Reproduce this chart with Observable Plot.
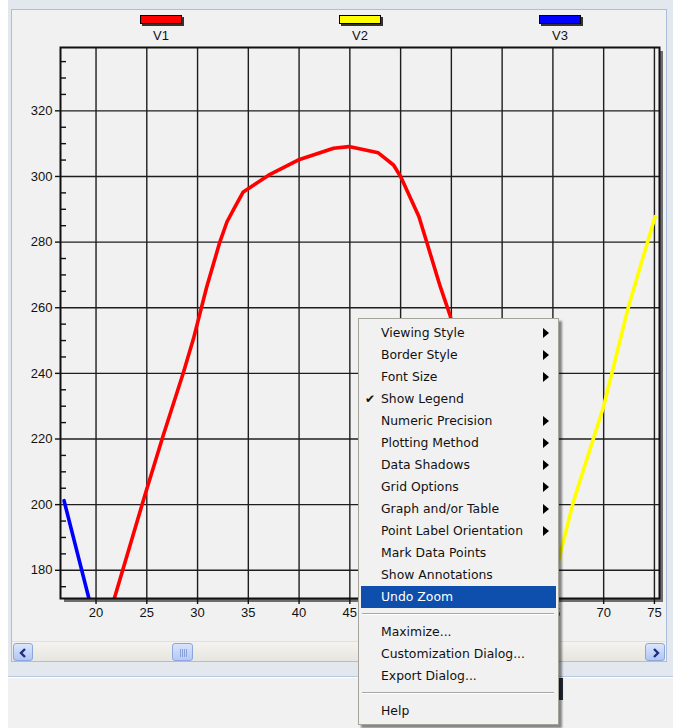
<!DOCTYPE html>
<html>
<head>
<meta charset="utf-8">
<script src="https://cdn.jsdelivr.net/npm/d3@7"></script>
<script src="https://cdn.jsdelivr.net/npm/@observablehq/plot@0.6"></script>
<style>
  html, body { margin: 0; padding: 0; background: #ffffff; width: 673px; height: 728px; overflow: hidden; font-family: "Liberation Sans", Arial, sans-serif; }
  .abs { position: absolute; }
  #outer { left: 8px; top: 0; width: 665px; height: 676px; background: #e3e8ef; border-bottom: 1px solid #b8c8de; }
  #panel { left: 11px; top: 9px; width: 654px; height: 651px; background: #f1f1f1; border: 1px solid #a9bfdc; }
  #bottomArea { left: 8px; top: 678px; width: 665px; height: 50px; background: #f1f1f1; }
  #shadow { left: 64px; top: 51px; width: 599px; height: 551px; background: #6d6d6d; }
  #chart { left: 0; top: 0; }
  .swatch { position: absolute; width: 40px; height: 7px; border: 1px solid #000; box-shadow: 2px 2px 0 #333; }
  .leglab { position: absolute; width: 40px; text-align: center; font-size: 13px; color: #111; }
  #scroll { left: 12px; top: 641px; width: 653px; height: 19px; background: linear-gradient(#f4f3ef, #e6e5df); border-top: 1px solid #e0e0e0; }
  .sbtn { position: absolute; top: 1px; width: 20px; height: 18px; border-radius: 3px; background: linear-gradient(#dbe6fe, #b2c6f5); border: 1px solid #8fa6da; box-sizing: border-box; }
  .sbtn svg { position: absolute; left: 0; top: 0; }
  #thumb { position: absolute; left: 160px; top: 1px; width: 21px; height: 18px; border-radius: 3px; background: linear-gradient(#d8e3fd, #b6c9f5); border: 1px solid #8fa6da; box-sizing: border-box; }
  #menu { left: 358px; top: 318px; width: 199px; height: 405px; background: #f1f1f1; border: 1px solid #a5a39a; box-shadow: 3px 3px 2px rgba(0,0,0,0.45); font-family: "DejaVu Sans", sans-serif; font-size: 12.4px; color: #111; }
  .mi { position: absolute; left: 0; width: 199px; height: 22px; line-height: 22px; }
  .mi span.t { position: absolute; left: 22px; }
  .mi span.a { position: absolute; left: 184px; top: 6px; width: 0; height: 0; border-left: 6px solid #000; border-top: 5px solid transparent; border-bottom: 5px solid transparent; }
  .mi span.c { position: absolute; left: 6px; font-size: 12px; }
  .sep { position: absolute; left: 3px; width: 192px; height: 0; border-top: 1px solid #a7a7a7; border-bottom: 1px solid #ffffff; }
  .hl { background: #0e4fae; color: #ffffff; left: 2px; width: 195px; }
</style>
</head>
<body>
<div id="outer" class="abs"></div>
<div id="panel" class="abs"></div>
<div id="bottomArea" class="abs"></div>
<div class="abs" style="left:556px;top:678px;width:7px;height:22px;background:#2a2f3a;"></div>
<div id="shadow" class="abs"></div>
<div id="chart" class="abs"></div>
<div id="legend"></div>
<div id="scroll" class="abs">
  <div class="sbtn" style="left:1px;"><svg width="20" height="18"><polyline points="11,5 7,9 11,13" fill="none" stroke="#1d2f7a" stroke-width="2.4"/></svg></div>
  <div id="thumb"><svg width="21" height="18"><g stroke="#8aa0d8" stroke-width="1"><line x1="7.5" y1="5" x2="7.5" y2="13"/><line x1="9.5" y1="5" x2="9.5" y2="13"/><line x1="11.5" y1="5" x2="11.5" y2="13"/><line x1="13.5" y1="5" x2="13.5" y2="13"/></g></svg></div>
  <div class="sbtn" style="left:633px;"><svg width="20" height="18"><polyline points="8,5 12,9 8,13" fill="none" stroke="#1d2f7a" stroke-width="2.4"/></svg></div>
</div>
<div id="menu" class="abs"></div>
<script>
// ---- data ----
const seriesNames = ["V1", "V2", "V3"];
const seriesColors = ["#ff0000", "#ffff00", "#0000ff"];

const v1X = [21.8, 24.7, 26.6, 28.6, 29.6, 30.9, 32.2, 32.9, 33.7, 34.5, 35.8, 37.0, 39.9, 43.4, 44.9, 47.8, 49.3, 50.0, 51.8, 52.6, 53.9, 54.9, 56.5, 58.5];
const v1Y = [171.4, 201.7, 220.9, 240.2, 250.6, 266.3, 280.1, 286.2, 290.8, 295.3, 297.9, 300.4, 305.0, 308.6, 309.1, 307.2, 303.5, 300.0, 287.8, 279.7, 266.5, 257.4, 230.0, 190.0];

const v2X = [64.5, 65.55, 67.0, 70.0, 72.45, 75.07];
const v2Y = [171.4, 182.9, 200.7, 230.0, 260.4, 287.8];

const v3X = [16.85, 19.3];
const v3Y = [201.2, 171.4];

const xTicks = [20, 25, 30, 35, 40, 45, 50, 55, 60, 65, 70, 75];
const yTicks = [180, 200, 220, 240, 260, 280, 300, 320];
const yMinorTicks = [175, 185, 190, 195, 205, 210, 215, 225, 230, 235, 245, 250, 255, 265, 270, 275, 285, 290, 295, 305, 310, 315, 325, 330, 335];
const xDomain = [16.5, 75.5];
const yDomain = [171.4, 339.3];

const menuItems = [
  {label: "Viewing Style", arrow: true},
  {label: "Border Style", arrow: true},
  {label: "Font Size", arrow: true},
  {label: "Show Legend", check: true},
  {label: "Numeric Precision", arrow: true},
  {label: "Plotting Method", arrow: true},
  {label: "Data Shadows", arrow: true},
  {label: "Grid Options", arrow: true},
  {label: "Graph and/or Table", arrow: true},
  {label: "Point Label Orientation", arrow: true},
  {label: "Mark Data Points"},
  {label: "Show Annotations"},
  {label: "Undo Zoom", highlight: true},
  {sep: true},
  {label: "Maximize..."},
  {label: "Customization Dialog..."},
  {label: "Export Dialog..."},
  {sep: true},
  {label: "Help"}
];

// ---- build ----
const toPts = (xs, ys, name) => xs.map((x, i) => ({x, y: ys[i], series: name}));
const v1 = toPts(v1X, v1Y, "V1");
const v2 = toPts(v2X, v2Y, "V2");
const v3 = toPts(v3X, v3Y, "V3");

const chart = Plot.plot({
  width: 673,
  height: 640,
  marginLeft: 60,
  marginRight: 14,
  marginTop: 47,
  marginBottom: 42,
  style: {background: "transparent", fontSize: "13px", fontFamily: "Liberation Sans, Arial, sans-serif", color: "#111"},
  x: {domain: xDomain},
  y: {domain: yDomain},
  marks: [
    Plot.frame({fill: "#f1f1f1", stroke: null}),
    Plot.gridX(xTicks, {stroke: "#1e1e1e", strokeOpacity: 1, strokeWidth: 1.4}),
    Plot.gridY(yTicks, {stroke: "#1e1e1e", strokeOpacity: 1, strokeWidth: 1.4}),
    Plot.line(v3, {x: "x", y: "y", stroke: seriesColors[2], strokeWidth: 3.6, clip: true}),
    Plot.line(v1, {x: "x", y: "y", stroke: seriesColors[0], strokeWidth: 3.6, curve: "linear", clip: true}),
    Plot.line(v2, {x: "x", y: "y", stroke: seriesColors[1], strokeWidth: 3.6, clip: true}),
    Plot.axisX(xTicks, {anchor: "bottom", tickSize: 6, tickPadding: 3, label: null, stroke: "#111", strokeWidth: 1.4}),
    Plot.axisY(yTicks, {anchor: "left", tickSize: 5, tickPadding: 3, label: null, stroke: "#111", strokeWidth: 1.4}),
    Plot.axisY(yMinorTicks, {anchor: "left", tickSize: -6, tickFormat: () => "", label: null, stroke: "#111", strokeWidth: 1.4}),
    Plot.frame({stroke: "#111", strokeWidth: 2})
  ]
});
document.getElementById("chart").appendChild(chart);

// legend
const legend = document.getElementById("legend");
const legendLeft = [140, 339, 539];
seriesNames.forEach((n, i) => {
  const sw = document.createElement("div");
  sw.className = "swatch";
  sw.style.left = legendLeft[i] + "px";
  sw.style.top = "15px";
  sw.style.background = seriesColors[i];
  legend.appendChild(sw);
  const lb = document.createElement("div");
  lb.className = "leglab";
  lb.style.left = (legendLeft[i] + 1) + "px";
  lb.style.top = "28px";
  lb.textContent = n;
  legend.appendChild(lb);
});

// menu
const menu = document.getElementById("menu");
let menuTop = 3;
menuItems.forEach(it => {
  if (it.sep) {
    const s = document.createElement("div");
    s.className = "sep";
    s.style.top = (menuTop + 5) + "px";
    menu.appendChild(s);
    menuTop += 13;
    return;
  }
  const d = document.createElement("div");
  d.className = "mi" + (it.highlight ? " hl" : "");
  d.style.top = menuTop + "px";
  const t = document.createElement("span");
  t.className = "t";
  t.textContent = it.label;
  if (it.highlight) t.style.left = "20px";
  d.appendChild(t);
  if (it.arrow) {
    const a = document.createElement("span");
    a.className = "a";
    d.appendChild(a);
  }
  if (it.check) {
    const c = document.createElement("span");
    c.className = "c";
    c.textContent = "\u2714";
    d.appendChild(c);
  }
  menu.appendChild(d);
  menuTop += 22;
});
</script>
</body>
</html>
